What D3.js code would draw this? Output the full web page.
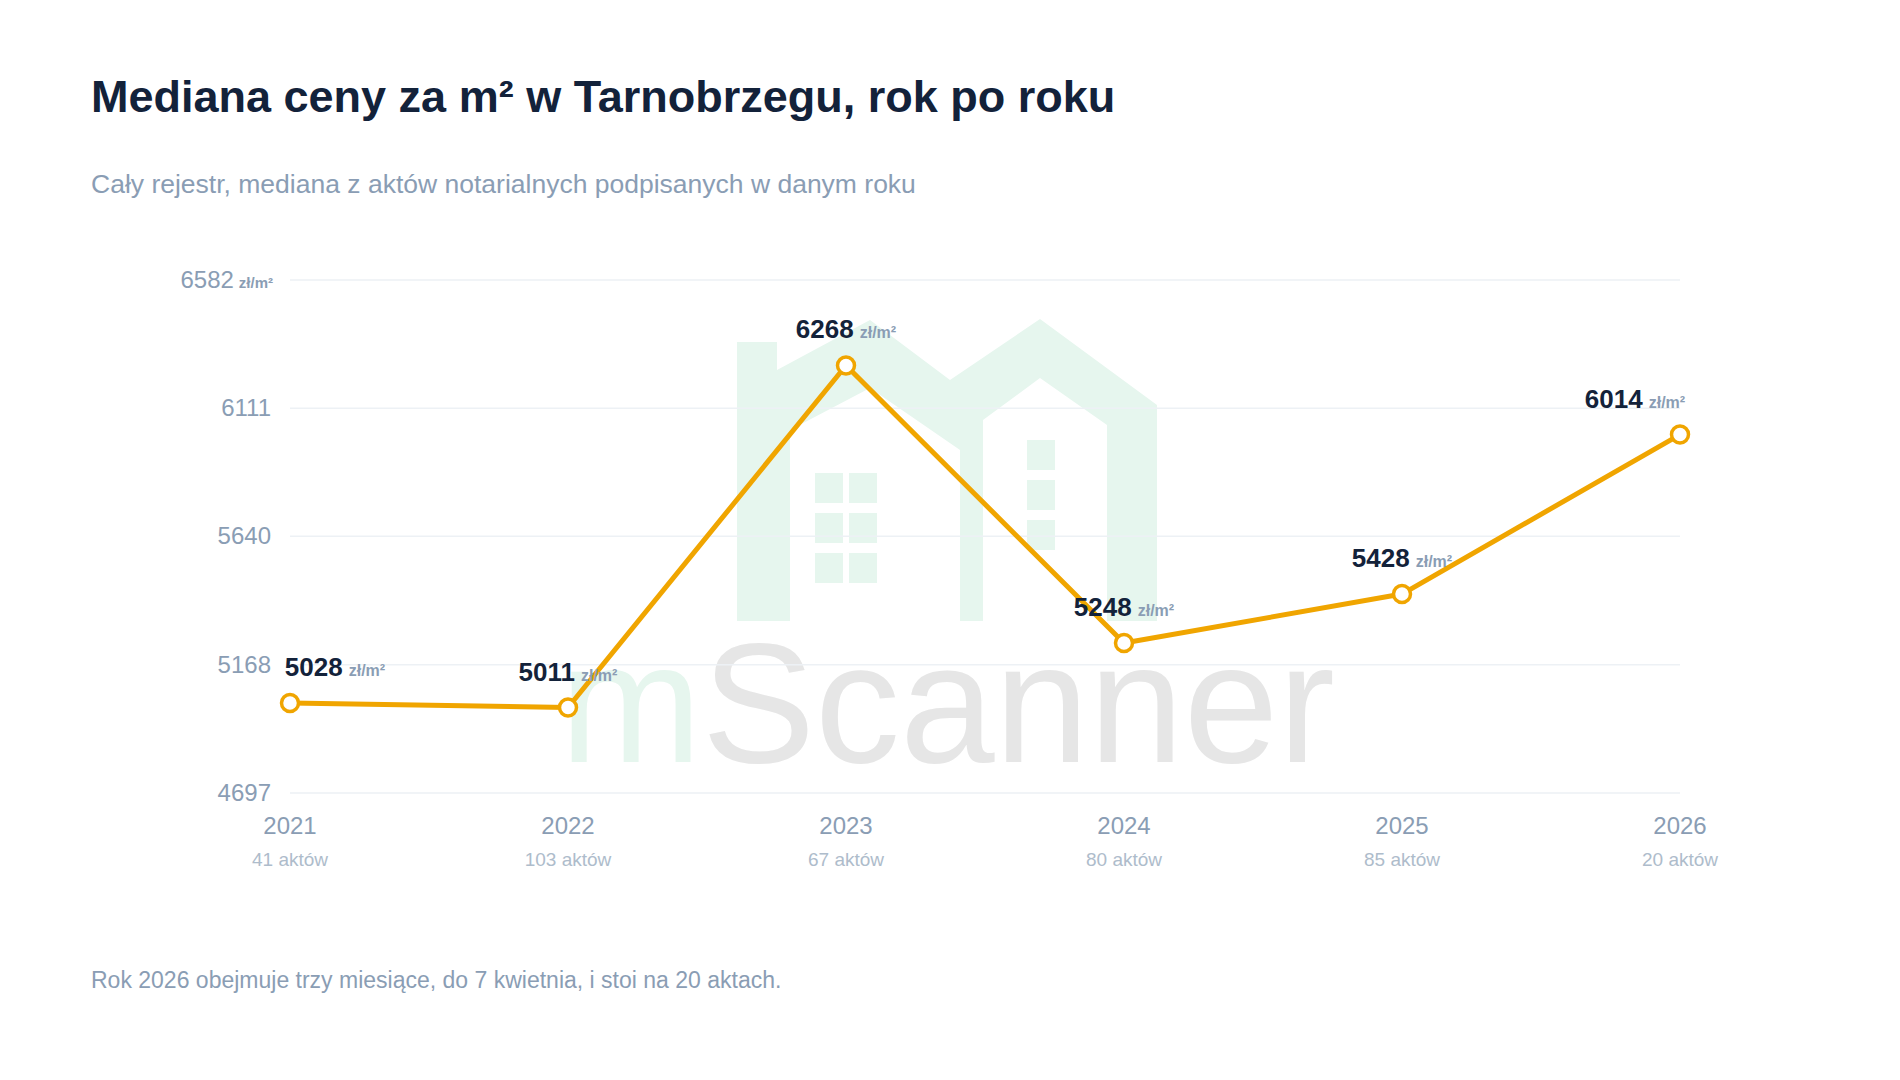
<!DOCTYPE html>
<html>
<head>
<meta charset="utf-8">
<script src="https://d3js.org/d3.v7.min.js"></script>
<style>
  body { margin: 0; background: #fff; font-family: "Liberation Sans", Arial, sans-serif; }
</style>
</head>
<body>
<script>
var years = ["2021", "2022", "2023", "2024", "2025", "2026"];
var medians = [5028, 5011, 6268, 5248, 5428, 6014];
var counts = ["41 aktów", "103 aktów", "67 aktów", "80 aktów", "85 aktów", "20 aktów"];
var yTicks = [4697, 5168, 5640, 6111, 6582];

var width = 1900, height = 1080;
var svg = d3.select("body").append("svg").attr("width", width).attr("height", height);

svg.append("text").attr("x", 91).attr("y", 112)
    .attr("font-size", 45).attr("font-weight", "bold").attr("fill", "#13223a")
    .text("Mediana ceny za m² w Tarnobrzegu, rok po roku");
svg.append("text").attr("x", 91).attr("y", 193)
    .attr("font-size", 26.5).attr("fill", "#8a9db4")
    .text("Cały rejestr, mediana z aktów notarialnych podpisanych w danym roku");
svg.append("text").attr("x", 91).attr("y", 988)
    .attr("font-size", 23).attr("fill", "#8a9db4")
    .text("Rok 2026 obejmuje trzy miesiące, do 7 kwietnia, i stoi na 20 aktach.");

// watermark
var wm = svg.append("g");
wm.append("path")
    .attr("d", "M737,342 L777,342 L777,370 L870,320 L950,380 L1040,319 L1157,405 L1157,621 L1107,621 L1107,425 L1040,378 L983,420 L983,621 L960,621 L960,450 L870,388 L790,430 L790,621 L737,621 Z")
    .attr("fill", "#e6f6ee");
[[815, 473], [849, 473], [815, 513], [849, 513], [815, 553], [849, 553], [1027, 440], [1027, 480], [1027, 520]].forEach(function(p) {
    wm.append("rect").attr("x", p[0]).attr("y", p[1]).attr("width", 28).attr("height", 30).attr("fill", "#e6f6ee");
});
var wt = wm.append("text").attr("x", 560).attr("y", 762).attr("font-size", 170).attr("font-family", "Liberation Sans, Arial, sans-serif");
wt.append("tspan").attr("fill", "#e6f6ee").text("m");
wt.append("tspan").attr("fill", "#e6e6e6").text("Scanner");

var x = d3.scalePoint().domain(years).range([290, 1680]);
var y = d3.scaleLinear().domain([4697, 6582]).range([793, 280]);

svg.append("g").selectAll("line").data(yTicks).join("line")
    .attr("x1", 290).attr("x2", 1680)
    .attr("y1", function(d) { return y(d); }).attr("y2", function(d) { return y(d); })
    .attr("stroke", "#edf1f5").attr("stroke-width", 1.5);

var yl = svg.append("g").selectAll("text").data(yTicks).join("text")
    .attr("x", 271)
    .attr("y", function(d) { return y(d) + 8; })
    .attr("text-anchor", "end").attr("font-size", 24).attr("fill", "#8a9db4")
    .text(function(d) { return d; });
yl.filter(function(d, i) { return i === yTicks.length - 1; })
    .append("tspan").attr("font-size", 15).attr("font-weight", "bold").attr("dx", 5).text("zł/m²");
yl.filter(function(d, i) { return i === yTicks.length - 1; }).attr("x", 273);

svg.append("g").selectAll("text").data(years).join("text")
    .attr("x", function(d) { return x(d); }).attr("y", 834)
    .attr("text-anchor", "middle").attr("font-size", 24).attr("fill", "#8a9db4")
    .text(function(d) { return d; });
svg.append("g").selectAll("text").data(counts).join("text")
    .attr("x", function(d, i) { return x(years[i]); }).attr("y", 866)
    .attr("text-anchor", "middle").attr("font-size", 19).attr("fill", "#aebccb")
    .text(function(d) { return d; });

var pts = years.map(function(d, i) { return [x(d), y(medians[i])]; });
svg.append("path").attr("d", d3.line()(pts))
    .attr("fill", "none").attr("stroke", "#f0a500").attr("stroke-width", 5).attr("stroke-linejoin", "round");
svg.append("g").selectAll("circle").data(pts).join("circle")
    .attr("cx", function(d) { return d[0]; }).attr("cy", function(d) { return d[1]; })
    .attr("r", 8.5).attr("fill", "#fff").attr("stroke", "#f0a500").attr("stroke-width", 3.5);

var lab = svg.append("g").selectAll("text").data(medians).join("text")
    .attr("x", function(d, i) { return x(years[i]) + (i === 0 ? 45 : i === years.length - 1 ? -45 : 0); })
    .attr("y", function(d, i) { return y(d) - 27; })
    .attr("text-anchor", "middle").attr("font-size", 26).attr("font-weight", "bold").attr("fill", "#13223a");
lab.append("tspan").text(function(d) { return d; });
lab.append("tspan").attr("font-size", 16).attr("fill", "#8a9db4").attr("dx", 6).text("zł/m²");
</script>
</body>
</html>
